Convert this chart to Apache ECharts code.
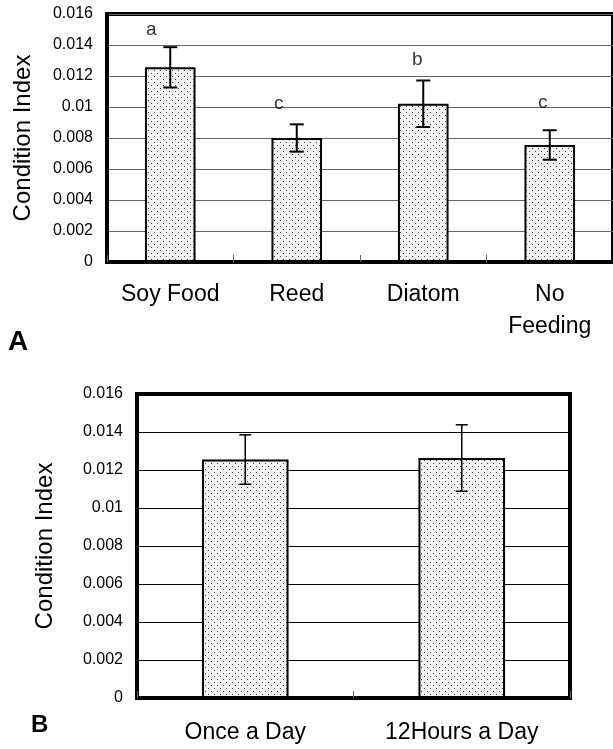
<!DOCTYPE html>
<html>
<head>
<meta charset="utf-8">
<script src="https://cdn.jsdelivr.net/npm/echarts@6/dist/echarts.min.js"></script>
<style>
html,body{margin:0;padding:0;background:#fff;}
#chart{width:613px;height:749px;}
</style>
</head>
<body>
<div id="chart"></div>
<script>
// ---- data ----
var categoriesA = ['Soy Food', 'Reed', 'Diatom', 'No\nFeeding'];
var meansA = [0.01256, 0.0080, 0.01021, 0.00755];
var errorsA = [0.0013, 0.00088, 0.0015, 0.00095];
var lettersA = ['a', 'c', 'b', 'c'];
var letterValuesA = [0.01497, 0.01019, 0.01303, 0.01026];

var categoriesB = ['Once a Day', '12Hours a Day'];
var meansB = [0.01255, 0.01263];
var errorsB = [0.0013, 0.00175];

var yTicks = [0, 0.002, 0.004, 0.006, 0.008, 0.01, 0.012, 0.014, 0.016];

// ---- dotted fill pattern ----
var pat = document.createElement('canvas');
pat.width = 6; pat.height = 6;
var pc = pat.getContext('2d');
pc.fillStyle = '#f2f2f2';
pc.fillRect(0, 0, 6, 6);
pc.fillStyle = '#444';
pc.fillRect(1, 1, 1, 1);
pc.fillRect(4, 4, 1, 1);

var FONT = 'Liberation Sans';

function errData(means, errs) {
  return means.map(function (m, i) { return [i, m - errs[i], m + errs[i]]; });
}
function errRender(lineW, capHalf) {
  return function (params, api) {
    var i = api.value(0);
    var lo = api.coord([i, api.value(1)]);
    var hi = api.coord([i, api.value(2)]);
    var st = { stroke: '#000', lineWidth: lineW };
    return {
      type: 'group',
      children: [
        { type: 'line', shape: { x1: hi[0], y1: hi[1], x2: lo[0], y2: lo[1] }, style: st },
        { type: 'line', shape: { x1: hi[0] - capHalf, y1: hi[1], x2: hi[0] + capHalf, y2: hi[1] }, style: st },
        { type: 'line', shape: { x1: lo[0] - capHalf, y1: lo[1], x2: lo[0] + capHalf, y2: lo[1] }, style: st }
      ]
    };
  };
}

var yMin = yTicks[0], yMax = yTicks[yTicks.length - 1], yStep = yTicks[1] - yTicks[0];

function yAxisCfg(gridIndex, gridColor, nameGap) {
  return {
    gridIndex: gridIndex, type: 'value', min: yMin, max: yMax, interval: yStep,
    name: 'Condition Index', nameLocation: 'middle', nameGap: nameGap,
    nameTextStyle: { fontFamily: FONT, fontSize: 24, color: '#000' },
    axisLine: { show: true, lineStyle: { color: '#000', width: 4 } },
    axisTick: { show: false },
    axisLabel: { fontFamily: FONT, fontSize: 16, color: '#000', margin: 14,
      formatter: function (v) { return String(parseFloat(v.toFixed(3))); } },
    splitLine: { show: true, lineStyle: { color: gridColor, width: 1 } }
  };
}
function xAxisCfg(gridIndex, cats, margin) {
  return {
    gridIndex: gridIndex, type: 'category', data: cats,
    axisLine: { show: true, lineStyle: { color: '#000', width: 4 } },
    axisTick: { show: true, inside: true, length: 7, lineStyle: { color: '#666', width: 1 } },
    axisLabel: { interval: 0, fontFamily: FONT, fontSize: 23, color: '#000', margin: margin, lineHeight: 32 },
    splitLine: { show: false }
  };
}

var chart = echarts.init(document.getElementById('chart'), null, { renderer: 'canvas' });
chart.setOption({
  animation: false,
  backgroundColor: '#fff',
  title: [
    { text: 'A', left: 3, top: 323, textStyle: { fontFamily: FONT, fontSize: 28, fontWeight: 'bold', color: '#000' } },
    { text: 'B', left: 26, top: 708, textStyle: { fontFamily: FONT, fontSize: 24, fontWeight: 'bold', color: '#000' } }
  ],
  grid: [
    { left: 107, top: 14, width: 510, height: 248, show: true, borderColor: '#000', borderWidth: 4, backgroundColor: 'transparent' },
    { left: 137, top: 394, width: 433, height: 309, show: true, borderColor: '#000', borderWidth: 4, backgroundColor: 'transparent' }
  ],
  xAxis: [xAxisCfg(0, categoriesA, 17), xAxisCfg(1, categoriesB, 19)],
  yAxis: [yAxisCfg(0, '#666', 72), yAxisCfg(1, '#000', 80)],
  series: [
    { type: 'bar', xAxisIndex: 0, yAxisIndex: 0, data: meansA, barWidth: '40%',
      itemStyle: { color: { image: pat, repeat: 'repeat' }, borderColor: '#000', borderWidth: 2 } },
    { type: 'custom', xAxisIndex: 0, yAxisIndex: 0, data: errData(meansA, errorsA),
      encode: { x: 0, y: [1, 2] }, renderItem: errRender(2, 7), z: 5 },
    { type: 'scatter', xAxisIndex: 0, yAxisIndex: 0, symbolSize: 0, z: 6,
      data: letterValuesA.map(function (v, i) {
        var offs = [-19, -18, -6, -7];
        return { value: [i, v], label: { offset: [offs[i], 0] } };
      }),
      label: { show: true, position: 'inside', fontFamily: FONT, fontSize: 19, color: '#000',
        formatter: function (p) { return lettersA[p.dataIndex]; } } },
    { type: 'bar', xAxisIndex: 1, yAxisIndex: 1, data: meansB, barWidth: '40%',
      itemStyle: { color: { image: pat, repeat: 'repeat' }, borderColor: '#000', borderWidth: 2 } },
    { type: 'custom', xAxisIndex: 1, yAxisIndex: 1, data: errData(meansB, errorsB),
      encode: { x: 0, y: [1, 2] }, renderItem: errRender(1.5, 6), z: 5 }
  ]
});
</script>
</body>
</html>
